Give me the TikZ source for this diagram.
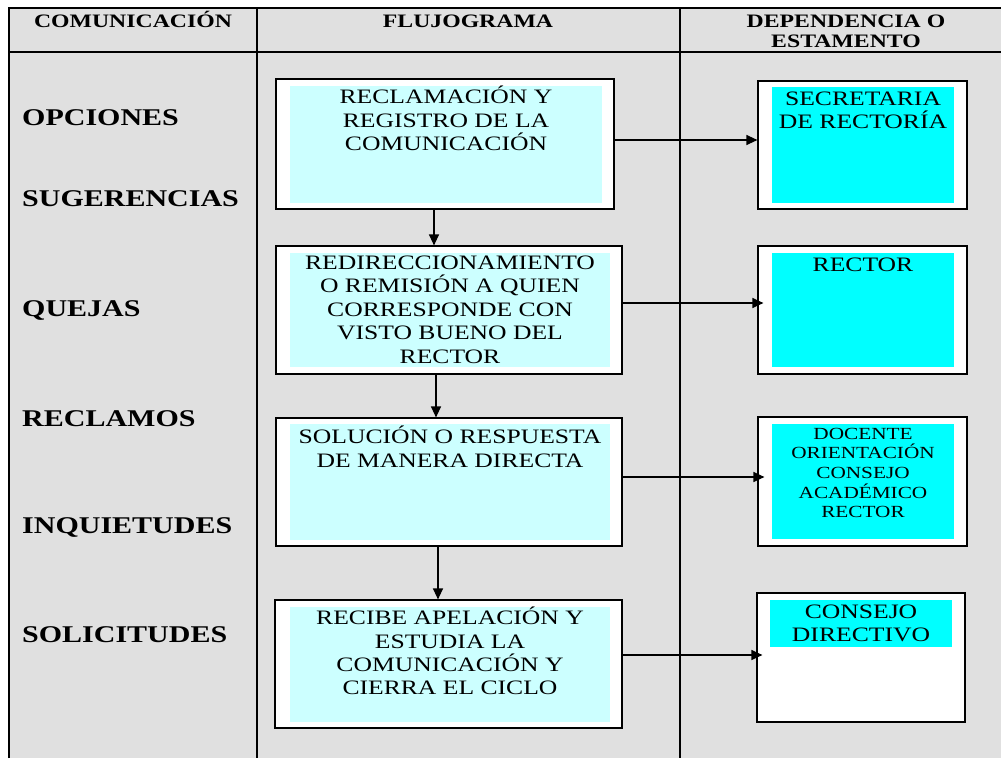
\documentclass[tikz,border=0pt]{standalone}
\usepackage{fontspec}
\setmainfont{Liberation Serif}[FakeStretch=1.25]
\usetikzlibrary{arrows.meta}
\usetikzlibrary{positioning}
\definecolor{tablegray}{RGB}{224,224,224}
\definecolor{palecyan}{RGB}{204,255,255}
\definecolor{brightcyan}{RGB}{0,255,255}
\tikzstyle{grid line}=[line width=1.8pt]
\tikzstyle{header}=[font=\fontsize{19}{20}\selectfont\bfseries, align=center, inner sep=0pt]
\tikzstyle{channel}=[font=\fontsize{24}{26}\selectfont\bfseries, anchor=base west, inner sep=0pt]
\tikzstyle{frame}=[draw, fill=white, line width=1.2pt, inner sep=0pt]
\tikzstyle{flow fill}=[fill=palecyan, inner sep=0pt]
\tikzstyle{office fill}=[fill=brightcyan, inner sep=0pt]
\tikzstyle{caption}=[font=\fontsize{20.5}{23.4}\selectfont, align=center, inner sep=0pt]
\tikzstyle{small caption}=[caption, font=\fontsize{17}{19.6}\selectfont]
\tikzstyle{flow}=[line width=1.3pt, -{Triangle[length=11pt,width=10pt]}]

\begin{document}
\begin{tikzpicture}[x=1pt, y=-1pt]
      \useasboundingbox (0,0) rectangle (1001,758);
      \fill[tablegray] (9,8) rectangle (1001,758);
      % table
      \draw[grid line] (9,758) -- (9,8) -- (1001,8);
      \draw[grid line] (9,52) -- (1001,52);
      \draw[grid line] (257,8) -- (257,758);
      \draw[grid line] (680,8) -- (680,758);
      \node[header, anchor=base] (hcom) at (133,27) {COMUNICACIÓN};
      \node[header, anchor=base] (hflu) at (468,27) {FLUJOGRAMA};
      \node[header, anchor=north] (hdep) at (846,15) {DEPENDENCIA O\\ESTAMENTO};
      % communication types
      \node[channel] (opc) at (22,125) {OPCIONES};
      \node[channel] (sug) at (22,206) {SUGERENCIAS};
      \node[channel] (que) at (22,316) {QUEJAS};
      \node[channel] (rec) at (22,426) {RECLAMOS};
      \node[channel] (inq) at (22,533) {INQUIETUDES};
      \node[channel] (sol) at (22,642) {SOLICITUDES};
      % flow chart
      \node[frame, minimum width=338pt, minimum height=130pt] (b1) at (445,144) {};
      \node[flow fill, minimum width=312pt, minimum height=117pt] (f1) at (446,144.5) {};
      \node[caption, below=0pt of f1.north] (c1) {RECLAMACIÓN Y\\REGISTRO DE LA\\COMUNICACIÓN};
      \node[frame, minimum width=346pt, minimum height=128pt] (b2) at (449,310) {};
      \node[flow fill, minimum width=320pt, minimum height=114pt] (f2) at (450,310) {};
      \node[caption, below=3pt of f2.north] (c2) {REDIRECCIONAMIENTO\\O REMISIÓN A QUIEN\\CORRESPONDE CON\\VISTO BUENO DEL\\RECTOR};
      \node[frame, minimum width=346pt, minimum height=128pt] (b3) at (449,482) {};
      \node[flow fill, minimum width=320pt, minimum height=116pt] (f3) at (450,482) {};
      \node[caption, below=2pt of f3.north] (c3) {SOLUCIÓN O RESPUESTA\\DE MANERA DIRECTA};
      \node[frame, minimum width=347pt, minimum height=128pt] (b4) at (448.5,664) {};
      \node[flow fill, minimum width=320pt, minimum height=115pt] (f4) at (450,664.5) {};
      \node[caption, below=0pt of f4.north] (c4) {RECIBE APELACIÓN Y\\ESTUDIA LA\\COMUNICACIÓN Y\\CIERRA EL CICLO};
      % offices
      \node[frame, minimum width=209pt, minimum height=128pt] (d1) at (862.5,145) {};
      \node[office fill, minimum width=182pt, minimum height=116pt] (g1) at (863,145) {};
      \node[caption, below=5pt of g1.north] (e1) {SECRETARIA\\DE RECTORÍA};
      \node[frame, minimum width=209pt, minimum height=128pt] (d2) at (862.5,310) {};
      \node[office fill, minimum width=182pt, minimum height=114pt] (g2) at (863,310) {};
      \node[caption, below=5pt of g2.north] (e2) {RECTOR};
      \node[frame, minimum width=209pt, minimum height=129pt] (d3) at (862.5,481.5) {};
      \node[office fill, minimum width=182pt, minimum height=115pt] (g3) at (863,481.5) {};
      \node[small caption, below=4pt of g3.north] (e3) {DOCENTE\\ORIENTACIÓN\\CONSEJO\\ACADÉMICO\\RECTOR};
      \node[frame, minimum width=208pt, minimum height=129pt] (d4) at (861,657.5) {};
      \node[office fill, minimum width=182pt, minimum height=47pt] (g4) at (861,623.5) {};
      \node[caption, below=5pt of g4.north] (e4) {CONSEJO\\DIRECTIVO};
      % connectors
      \draw[flow] ([xshift=-11pt]b1.south) -- ([xshift=-11pt]b1.south |- b2.north);
      \draw[flow] ([xshift=-13pt]b2.south) -- ([xshift=-13pt]b2.south |- b3.north);
      \draw[flow] ([xshift=-11pt]b3.south) -- ([xshift=-11pt]b3.south |- b4.north);
      \draw[flow] ([yshift=4pt]b1.east) -- ([yshift=4pt]b1.east -| d1.west);
      \draw[flow, shorten >=-6pt] ([yshift=7pt]b2.east) -- ([yshift=7pt]b2.east -| d2.west);
      \draw[flow, shorten >=-7pt] ([yshift=5pt]b3.east) -- ([yshift=5pt]b3.east -| d3.west);
      \draw[flow, shorten >=-6pt] ([yshift=9pt]b4.east) -- ([yshift=9pt]b4.east -| d4.west);
    \end{tikzpicture}
\end{document}
